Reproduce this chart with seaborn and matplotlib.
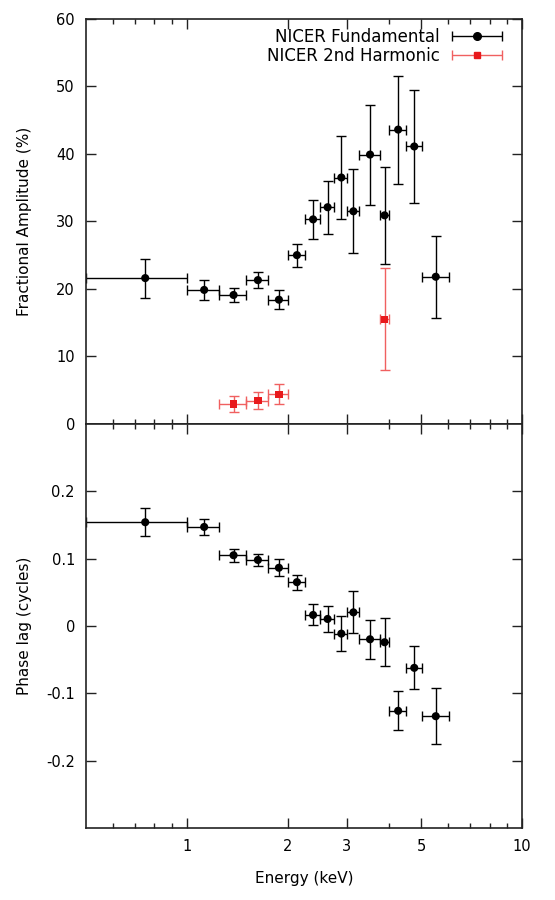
import numpy as np
import pandas as pd
import matplotlib
matplotlib.use("Agg")
import matplotlib.pyplot as plt
from matplotlib.ticker import FixedLocator, FixedFormatter, NullFormatter
from matplotlib.legend_handler import HandlerErrorbar
import seaborn as sns

# ---- data ----
energy = [0.751, 1.126, 1.378, 1.629, 1.882, 2.13, 2.38, 2.63, 2.89, 3.14, 3.52, 3.89, 4.27, 4.77, 5.53]
e_lo = [0.50, 1.00, 1.25, 1.50, 1.75, 2.00, 2.25, 2.50, 2.75, 3.00, 3.27, 3.77, 4.00, 4.52, 5.03]
e_hi = [1.00, 1.25, 1.50, 1.75, 2.00, 2.25, 2.50, 2.75, 3.00, 3.27, 3.77, 4.00, 4.52, 5.03, 6.04]
frac_amp = [21.6, 19.85, 19.1, 21.3, 18.4, 25.0, 30.3, 32.1, 36.5, 31.5, 39.9, 30.9, 43.6, 41.1, 21.8]
frac_err = [2.9, 1.5, 1.1, 1.15, 1.4, 1.7, 2.9, 3.9, 6.1, 6.2, 7.4, 7.2, 8.0, 8.4, 6.1]

harm_energy = [1.378, 1.629, 1.882, 3.89]
harm_lo = [1.25, 1.50, 1.75, 3.77]
harm_hi = [1.50, 1.75, 2.00, 4.00]
harm_amp = [2.96, 3.46, 4.4, 15.5]
harm_err = [1.15, 1.25, 1.45, 7.55]

phase_lag = [0.154, 0.147, 0.105, 0.098, 0.0864, 0.065, 0.0163, 0.0104, -0.0114, 0.0202,
             -0.0198, -0.0242, -0.126, -0.0622, -0.134]
phase_err = [0.021, 0.0125, 0.0095, 0.009, 0.0123, 0.011, 0.0156, 0.019, 0.026, 0.031,
             0.029, 0.036, 0.0287, 0.032, 0.042]

x_major = [1, 2, 3, 5, 10]
x_minor = [0.6, 0.7, 0.8, 0.9, 4, 6, 7, 8, 9]
amp_ticks = [0, 10, 20, 30, 40, 50, 60]
lag_ticks = [-0.2, -0.1, 0, 0.1, 0.2]
lag_labels = ["-0.2", "-0.1", "0", "0.1", "0.2"]

fund = pd.DataFrame({"energy": energy, "lo": e_lo, "hi": e_hi, "amp": frac_amp,
                     "amp_err": frac_err, "lag": phase_lag, "lag_err": phase_err})
harm = pd.DataFrame({"energy": harm_energy, "lo": harm_lo, "hi": harm_hi,
                     "amp": harm_amp, "amp_err": harm_err})

sns.set_theme(style="ticks")
plt.rcParams["font.family"] = ["DejaVu Sans"]
plt.rcParams["font.size"] = 10.5
for k in ("text.color", "axes.labelcolor", "xtick.color", "ytick.color"):
    plt.rcParams[k] = "black"

RED = "#e8191c"
RED_BAR = "#f06060"
DOT_S = 34

fig = plt.figure(figsize=(5.55, 9.0), dpi=100)
ax1 = fig.add_axes([0.155, 0.529, 0.7855, 0.450])
ax2 = fig.add_axes([0.155, 0.080, 0.7855, 0.449], sharex=ax1)

def xerr_of(df):
    return np.array([df["energy"] - df["lo"], df["hi"] - df["energy"]])

# top panel
ax1.errorbar(fund["energy"], fund["amp"], xerr=xerr_of(fund), yerr=fund["amp_err"],
             fmt="none", ecolor="black", elinewidth=1.0, capsize=3.5, capthick=1.0)
sns.scatterplot(data=fund, x="energy", y="amp", ax=ax1, color="black", marker="o",
                s=DOT_S, edgecolor="none", linewidth=0, zorder=3, legend=False)
ax1.errorbar(harm["energy"], harm["amp"], xerr=xerr_of(harm), yerr=harm["amp_err"],
             fmt="none", ecolor=RED_BAR, elinewidth=1.0, capsize=3.5, capthick=1.0)
sns.scatterplot(data=harm, x="energy", y="amp", ax=ax1, color=RED, marker="s",
                s=28, edgecolor="none", linewidth=0, zorder=3, legend=False)

# legend handles (horizontal bar style)
h1 = ax1.errorbar([np.nan], [np.nan], xerr=[1], fmt="o", color="black", ms=5.5,
                  elinewidth=1.0, capsize=3.5, capthick=1.0, label="NICER Fundamental")
h2 = ax1.errorbar([np.nan], [np.nan], xerr=[1], fmt="s", color=RED, ecolor=RED_BAR, ms=5,
                  elinewidth=1.0, capsize=3.5, capthick=1.0, label="NICER 2nd Harmonic")
ax1.legend(handles=[h1, h2], loc="upper right", frameon=False, markerfirst=False,
           handlelength=3.05, handletextpad=0.7, labelspacing=0.05, fontsize=12,
           borderaxespad=0.0, bbox_to_anchor=(0.970, 0.994),
           handler_map={type(h1): HandlerErrorbar(xerr_size=1.49)})

ax1.set_ylim(0, 60)
ax1.set_yticks(amp_ticks)
ax1.set_ylabel("Fractional Amplitude (%)", fontsize=11)
ax1.tick_params(labelbottom=False)

# bottom panel
ax2.errorbar(fund["energy"], fund["lag"], xerr=xerr_of(fund), yerr=fund["lag_err"],
             fmt="none", ecolor="black", elinewidth=1.0, capsize=3.5, capthick=1.0)
sns.scatterplot(data=fund, x="energy", y="lag", ax=ax2, color="black", marker="o",
                s=DOT_S, edgecolor="none", linewidth=0, zorder=3, legend=False)
ax2.set_ylim(-0.3, 0.3)
ax2.yaxis.set_major_locator(FixedLocator(lag_ticks))
ax2.yaxis.set_major_formatter(FixedFormatter(lag_labels))
ax2.set_ylabel("Phase lag (cycles)", fontsize=11)
ax2.set_xlabel("Energy (keV)", fontsize=11, labelpad=12)

ax2.set_xscale("log")
ax2.set_xlim(0.5, 10)
ax2.xaxis.set_major_locator(FixedLocator(x_major))
ax2.xaxis.set_major_formatter(FixedFormatter([str(v) for v in x_major]))
ax2.xaxis.set_minor_locator(FixedLocator(x_minor))
ax2.xaxis.set_minor_formatter(NullFormatter())

for ax in (ax1, ax2):
    for sp in ax.spines.values():
        sp.set_visible(True)
        sp.set_linewidth(1.2)
        sp.set_color("#222222")
    ax.tick_params(which="major", direction="in", length=7, width=1.0, top=True, right=True,
                   labelsize=10.5, pad=8, color="#222222")
    ax.tick_params(which="minor", direction="in", length=3.5, width=1.0, top=True, right=True,
                   color="#222222")
    ax.yaxis.set_label_coords(-0.125, 0.5)
ax1.set_xlabel("")
ax1.tick_params(labelbottom=False)

fig.savefig("out.png", dpi=100)
